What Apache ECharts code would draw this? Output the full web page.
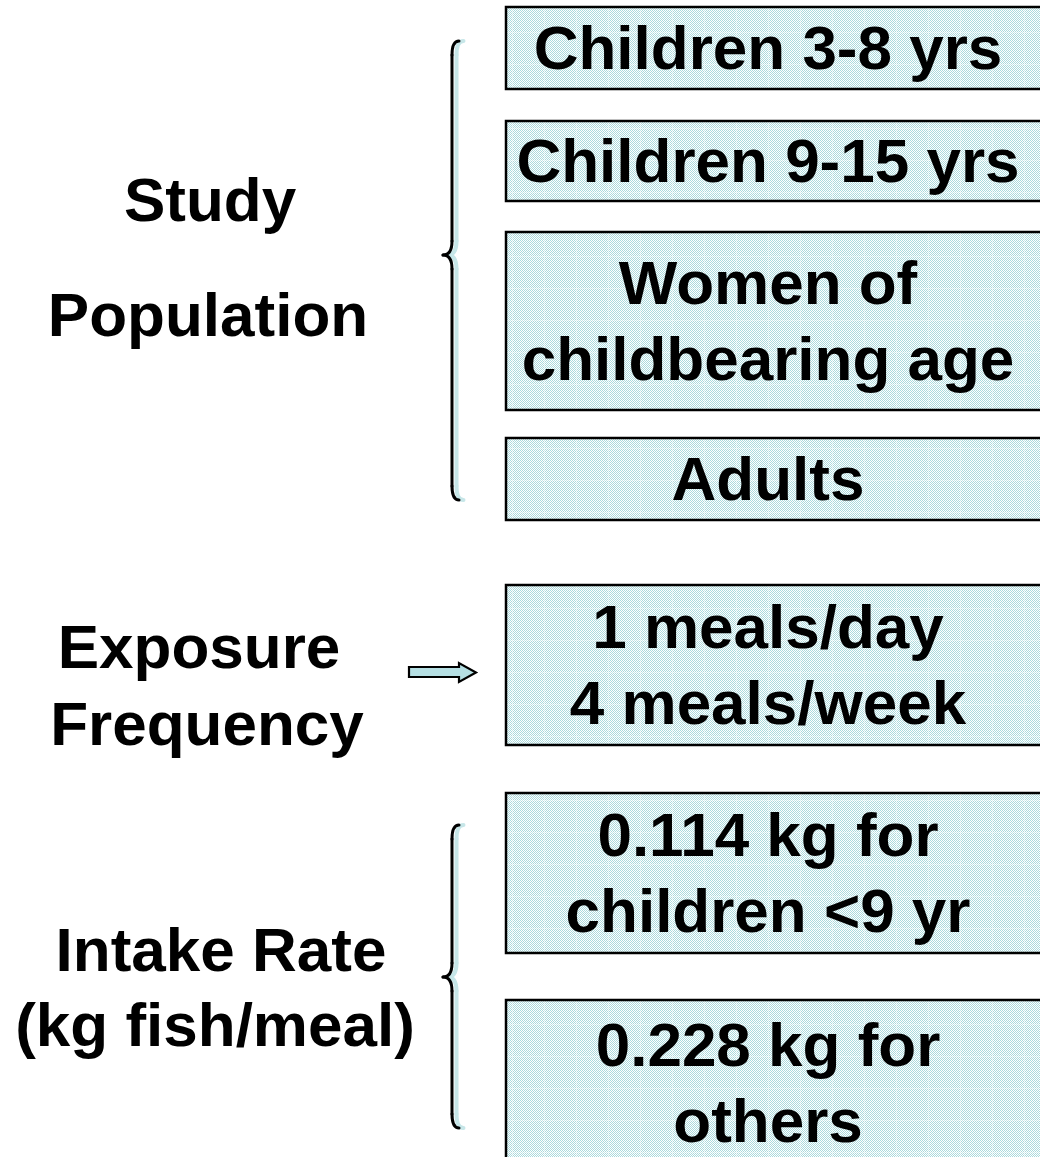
<!DOCTYPE html>
<html><head><meta charset="utf-8">
<script src="https://cdn.jsdelivr.net/npm/echarts@6/dist/echarts.min.js"></script>
<style>html,body{margin:0;padding:0;background:#fff}#main{width:1040px;height:1157px}</style>
</head><body><div id="main"></div>
<script>
// ---- content ----
const groupLines = ['Study', 'Population', 'Exposure', 'Frequency', 'Intake Rate', '(kg fish/meal)'];
const studyPopulation = ['Children 3-8 yrs', 'Children 9-15 yrs', 'Women of\nchildbearing age', 'Adults'];
const exposureFrequency = ['1 meals/day\n4 meals/week'];
const intakeRate = ['0.114 kg for\nchildren <9 yr', '0.228 kg for\nothers'];
const boxLabels = studyPopulation.concat(exposureFrequency, intakeRate);

// ---- layout (pixel space of the hidden axes) ----
const W = 1040, H = 1157;
const boxX = [506, 1052];
const boxTextX = 768;
const boxRows = [[7, 89], [121, 201], [232, 410], [438, 520], [585, 745], [793, 953], [1000, 1165]];
const groupPos = [[210, 223], [208, 338], [199, 670], [207, 747], [221, 973], [215, 1048]]; // centre x, baseline
const braceSpecs = [[41, 255, 500], [825, 977, 1128]]; // top, tip, bottom
const FONT = 'bold 62px "Liberation Sans", Arial, Helvetica, sans-serif';

function makePattern() {
  const n = 32;
  const c = document.createElement('canvas');
  c.width = n; c.height = n;
  const g = c.getContext('2d');
  g.fillStyle = '#ffffff'; g.fillRect(0, 0, n, n);
  g.fillStyle = '#abdadd';
  for (let y = 0; y < n; y++) for (let x = 0; x < n; x++) if ((x + y) % 2 === 0) g.fillRect(x, y, 1, 1);
  g.fillStyle = 'rgba(255,255,255,0.35)';
  g.fillRect(0, 0, n, 1); g.fillRect(0, 0, 1, n);
  return c;
}
const pattern = { image: makePattern(), repeat: 'repeat' };

const chart = echarts.init(document.getElementById('main'), null, { renderer: 'canvas' });

function braceChildren(api, spec, dx, color, lw) {
  const [top, tip, bot] = spec;
  const xe = 459 + dx, xv = 452 + dx, xt = 443 + dx;
  const c = (x, y) => api.coord([x, y]);
  const st = { stroke: color, lineWidth: lw, fill: null, lineCap: 'round' };
  const bz = (a, cp, b) => {
    const A = c(a[0], a[1]), C = c(cp[0], cp[1]), B = c(b[0], b[1]);
    return { type: 'bezierCurve', shape: { x1: A[0], y1: A[1], cpx1: C[0], cpy1: C[1], x2: B[0], y2: B[1] }, style: st };
  };
  const ln = (a, b) => {
    const A = c(a[0], a[1]), B = c(b[0], b[1]);
    return { type: 'line', shape: { x1: A[0], y1: A[1], x2: B[0], y2: B[1] }, style: st };
  };
  return [
    bz([xe, top], [xv, top], [xv, top + 14]),
    ln([xv, top + 14], [xv, tip - 14]),
    bz([xv, tip - 14], [xv, tip], [xt, tip]),
    bz([xt, tip], [xv, tip], [xv, tip + 14]),
    ln([xv, tip + 14], [xv, bot - 14]),
    bz([xv, bot - 14], [xv, bot], [xe, bot])
  ];
}

const option = {
  backgroundColor: '#ffffff',
  animation: false,
  grid: { left: 0, right: 0, top: 0, bottom: 0 },
  xAxis: { type: 'value', min: 0, max: W, show: false },
  yAxis: { type: 'value', min: 0, max: H, inverse: true, show: false },
  series: [
    {
      type: 'custom', name: 'boxes', clip: false,
      data: boxLabels.map((t) => ({ name: t, value: [0, 0] })),
      renderItem: function (params, api) {
        const i = params.dataIndex;
        const r = boxRows[i];
        const p0 = api.coord([boxX[0], r[0]]);
        const p1 = api.coord([boxX[1], r[1]]);
        const tp = api.coord([boxTextX, (r[0] + r[1]) / 2 + 4]);
        return {
          type: 'group',
          children: [
            { type: 'rect', shape: { x: p0[0], y: p0[1], width: p1[0] - p0[0], height: p1[1] - p0[1] },
              style: { fill: pattern, stroke: '#000', lineWidth: 2.5 } },
            { type: 'text', x: tp[0], y: tp[1],
              style: { text: boxLabels[i], font: FONT, fill: '#000', align: 'center', verticalAlign: 'middle', lineHeight: 76 } }
          ]
        };
      }
    },
    {
      type: 'custom', name: 'groups', clip: false,
      data: groupLines.map((t) => ({ name: t, value: [0, 0] })),
      renderItem: function (params, api) {
        const i = params.dataIndex;
        const p = api.coord([groupPos[i][0], groupPos[i][1] - 19]);
        return { type: 'text', x: p[0], y: p[1],
          style: { text: groupLines[i], font: FONT, fill: '#000', align: 'center', verticalAlign: 'middle' } };
      }
    },
    {
      type: 'custom', name: 'braces', clip: false,
      data: braceSpecs.map(() => ({ value: [0, 0] })),
      renderItem: function (params, api) {
        const spec = braceSpecs[params.dataIndex];
        return { type: 'group', children:
          braceChildren(api, spec, 4.5, '#c6e6e8', 4).concat(braceChildren(api, spec, 0, '#000', 3)) };
      }
    },
    {
      type: 'custom', name: 'arrow', clip: false,
      data: [{ value: [0, 0] }],
      renderItem: function (params, api) {
        const pts = [[409, 667], [459, 667], [459, 663], [476, 672.5], [459, 682], [459, 677], [409, 677]]
          .map(p => api.coord(p));
        return { type: 'polygon', shape: { points: pts }, style: { fill: '#b5dfe3', stroke: '#000', lineWidth: 2.2 } };
      }
    }
  ]
};
chart.setOption(option);
</script>
</body></html>
